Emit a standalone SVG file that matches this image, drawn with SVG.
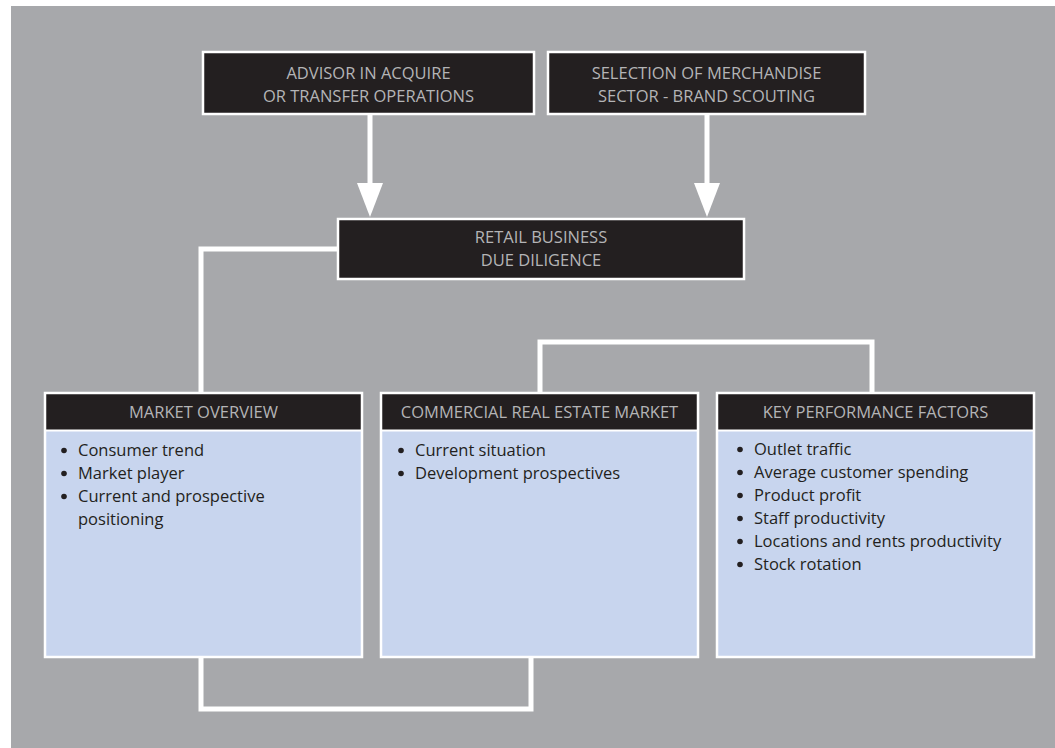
<svg xmlns="http://www.w3.org/2000/svg" width="1055" height="748" viewBox="0 0 1055 748">
<defs>
<style>
.bg{fill:#a7a8ab}
.dark{fill:#231f20;stroke:#ffffff;stroke-width:2.5}
.frame{fill:none;stroke:#ffffff;stroke-width:2.5}
.hdr{fill:#231f20}
.body{fill:#c8d5ee}
.ht{font-family:"Open Sans","Liberation Sans",sans-serif;font-size:16.5px;fill:#b4b4b6;text-anchor:middle}
.bt{font-family:"Open Sans","Liberation Sans",sans-serif;font-size:16.5px;fill:#231f20}
.dot{fill:#231f20}
.conn{fill:none;stroke:#ffffff;stroke-width:5}
.head{fill:#ffffff}
</style>
</defs>
<rect class="bg" x="11" y="6" width="1044" height="742"/>
<g id="connectors">
<line class="conn" x1="370" y1="115" x2="370" y2="186"/>
<polygon class="head" points="357,183 383,183 370,217"/>
<line class="conn" x1="707" y1="115" x2="707" y2="186"/>
<polygon class="head" points="694,183 720,183 707,217"/>
<polyline class="conn" points="338,249 201,249 201,392"/>
<polyline class="conn" points="540,392 540,342 872,342 872,392"/>
<polyline class="conn" points="201,658 201,709 531,709 531,658"/>
</g>
<g id="advisor">
<rect class="dark" x="203" y="52" width="331" height="62"/>
<text class="ht" x="368.5" y="79">ADVISOR IN ACQUIRE</text>
<text class="ht" x="368.5" y="102">OR TRANSFER OPERATIONS</text>
</g>
<g id="selection">
<rect class="dark" x="548" y="52" width="317" height="62"/>
<text class="ht" x="706.5" y="79">SELECTION OF MERCHANDISE</text>
<text class="ht" x="706.5" y="102">SECTOR - BRAND SCOUTING</text>
</g>
<g id="retail">
<rect class="dark" x="338" y="219" width="406" height="60"/>
<text class="ht" x="541" y="243">RETAIL BUSINESS</text>
<text class="ht" x="541" y="266">DUE DILIGENCE</text>
</g>
<g id="market-overview">
<rect class="hdr" x="45" y="393" width="317" height="37"/>
<rect class="body" x="45" y="431" width="317" height="226"/>
<rect class="frame" x="45" y="393" width="317" height="264"/>
<line x1="45" y1="430.5" x2="362" y2="430.5" stroke="#ffffff" stroke-width="2"/>
<text class="ht" x="203.5" y="418">MARKET OVERVIEW</text>
<circle class="dot" cx="64" cy="450.5" r="2.8"/><text class="bt" x="78" y="456">Consumer trend</text>
<circle class="dot" cx="64" cy="473.5" r="2.8"/><text class="bt" x="78" y="479">Market player</text>
<circle class="dot" cx="64" cy="496.5" r="2.8"/><text class="bt" x="78" y="502">Current and prospective</text>
<text class="bt" x="78" y="525">positioning</text>
</g>
<g id="commercial">
<rect class="hdr" x="381" y="393" width="317" height="37"/>
<rect class="body" x="381" y="431" width="317" height="226"/>
<rect class="frame" x="381" y="393" width="317" height="264"/>
<line x1="381" y1="430.5" x2="698" y2="430.5" stroke="#ffffff" stroke-width="2"/>
<text class="ht" x="539.5" y="418">COMMERCIAL REAL ESTATE MARKET</text>
<circle class="dot" cx="401" cy="450.5" r="2.8"/><text class="bt" x="415" y="456">Current situation</text>
<circle class="dot" cx="401" cy="473.5" r="2.8"/><text class="bt" x="415" y="479">Development prospectives</text>
</g>
<g id="kpf">
<rect class="hdr" x="717" y="393" width="317" height="37"/>
<rect class="body" x="717" y="431" width="317" height="226"/>
<rect class="frame" x="717" y="393" width="317" height="264"/>
<line x1="717" y1="430.5" x2="1034" y2="430.5" stroke="#ffffff" stroke-width="2"/>
<text class="ht" x="875.5" y="418">KEY PERFORMANCE FACTORS</text>
<circle class="dot" cx="740" cy="449.5" r="2.8"/><text class="bt" x="754" y="455">Outlet traffic</text>
<circle class="dot" cx="740" cy="472.5" r="2.8"/><text class="bt" x="754" y="478">Average customer spending</text>
<circle class="dot" cx="740" cy="495.5" r="2.8"/><text class="bt" x="754" y="501">Product profit</text>
<circle class="dot" cx="740" cy="518.5" r="2.8"/><text class="bt" x="754" y="524">Staff productivity</text>
<circle class="dot" cx="740" cy="541.5" r="2.8"/><text class="bt" x="754" y="547">Locations and rents productivity</text>
<circle class="dot" cx="740" cy="564.5" r="2.8"/><text class="bt" x="754" y="570">Stock rotation</text>
</g>
</svg>
